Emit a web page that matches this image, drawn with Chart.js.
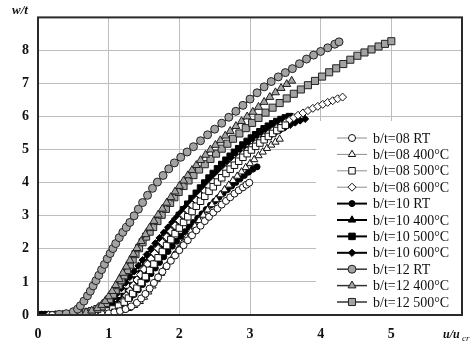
<!DOCTYPE html>
<html>
<head>
<meta charset="utf-8">
<script src="https://cdn.jsdelivr.net/npm/chart.js@4.4.1/dist/chart.umd.min.js"></script>
<style>
  html, body { margin: 0; padding: 0; background: #ffffff; }
  #wrap { width: 473px; height: 346px; }
</style>
</head>
<body>
<div id="wrap"><canvas id="chart" width="473" height="346"></canvas></div>
<script>
// Axis ticks
const xTicks = [0, 1, 2, 3, 4, 5];
const yTicks = [0, 1, 2, 3, 4, 5, 6, 7, 8];

// Series names (legend order)
const seriesNames = [
  'b/t=08 RT', 'b/t=08 400°C', 'b/t=08 500°C', 'b/t=08 600°C',
  'b/t=10 RT', 'b/t=10 400°C', 'b/t=10 500°C', 'b/t=10 600°C',
  'b/t=12 RT', 'b/t=12 400°C', 'b/t=12 500°C'
];

// [u/u_cr, w/t] pairs for each specimen
const bt08RT = [[0.2,0],[0.3,0],[0.4,0],[0.5,0],[0.6,0.01],[0.7,0.01],[0.8,0.02],[0.9,0.03],[1.0,0.05],[1.08,0.08],[1.16,0.12],[1.24,0.18],[1.32,0.26],[1.4,0.37],[1.46,0.5],[1.52,0.64],[1.58,0.8],[1.64,0.97],[1.7,1.14],[1.76,1.31],[1.82,1.48],[1.88,1.64],[1.94,1.8],[2.0,1.96],[2.06,2.11],[2.12,2.26],[2.18,2.41],[2.24,2.56],[2.3,2.7],[2.36,2.84],[2.42,2.97],[2.48,3.1],[2.54,3.22],[2.6,3.34],[2.66,3.45],[2.72,3.56],[2.78,3.67],[2.84,3.77],[2.9,3.86],[2.95,3.94],[2.99,4.0]];
const bt08T400 = [[0.25,0],[0.35,0],[0.45,0],[0.55,0.01],[0.65,0.01],[0.75,0.02],[0.85,0.03],[0.95,0.05],[1.05,0.07],[1.12,0.1],[1.2,0.14],[1.28,0.2],[1.36,0.29],[1.44,0.41],[1.5,0.54],[1.56,0.7],[1.62,0.88],[1.68,1.07],[1.74,1.26],[1.8,1.44],[1.86,1.62],[1.92,1.8],[1.98,1.98],[2.04,2.16],[2.1,2.34],[2.16,2.52],[2.22,2.69],[2.28,2.86],[2.34,3.02],[2.4,3.18],[2.46,3.34],[2.52,3.49],[2.58,3.64],[2.64,3.79],[2.7,3.93],[2.76,4.07],[2.82,4.2],[2.88,4.33],[2.94,4.46],[3.0,4.58],[3.06,4.7],[3.12,4.82],[3.18,4.93],[3.24,5.04],[3.3,5.14],[3.36,5.23],[3.42,5.32]];
const bt08T500 = [[0.3,0],[0.4,0.01],[0.5,0.01],[0.6,0.02],[0.7,0.03],[0.8,0.05],[0.9,0.08],[0.98,0.12],[1.06,0.18],[1.14,0.27],[1.22,0.39],[1.28,0.51],[1.34,0.65],[1.4,0.81],[1.46,0.98],[1.52,1.16],[1.58,1.35],[1.64,1.54],[1.7,1.73],[1.76,1.92],[1.82,2.1],[1.88,2.28],[1.94,2.46],[2.0,2.63],[2.06,2.8],[2.12,2.97],[2.18,3.13],[2.24,3.29],[2.3,3.44],[2.36,3.59],[2.42,3.74],[2.48,3.88],[2.54,4.02],[2.6,4.15],[2.66,4.28],[2.72,4.41],[2.78,4.53],[2.84,4.65],[2.9,4.77],[2.96,4.88],[3.02,4.99],[3.08,5.1],[3.14,5.2],[3.2,5.3],[3.26,5.4],[3.32,5.49],[3.38,5.58],[3.44,5.66],[3.5,5.74]];
const bt08T600 = [[0.15,0],[0.2,0],[0.25,0],[0.3,0],[0.35,0],[0.4,0],[0.45,0],[0.5,0.01],[0.55,0.01],[0.6,0.01],[0.65,0.02],[0.7,0.02],[0.75,0.03],[0.8,0.04],[0.85,0.05],[0.9,0.06],[0.95,0.08],[1.0,0.1],[1.05,0.14],[1.1,0.2],[1.15,0.3],[1.2,0.43],[1.25,0.58],[1.3,0.74],[1.35,0.9],[1.4,1.06],[1.45,1.22],[1.5,1.38],[1.55,1.54],[1.6,1.7],[1.65,1.86],[1.7,2.01],[1.76,2.19],[1.82,2.36],[1.88,2.53],[1.94,2.7],[2.0,2.86],[2.06,3.02],[2.12,3.17],[2.18,3.32],[2.24,3.47],[2.3,3.61],[2.36,3.75],[2.42,3.89],[2.48,4.02],[2.54,4.15],[2.6,4.28],[2.66,4.4],[2.72,4.52],[2.78,4.64],[2.84,4.75],[2.9,4.86],[2.96,4.97],[3.02,5.08],[3.08,5.18],[3.14,5.28],[3.2,5.38],[3.26,5.48],[3.32,5.57],[3.38,5.66],[3.44,5.74],[3.5,5.82],[3.56,5.9],[3.62,5.97],[3.68,6.04],[3.75,6.11],[3.82,6.18],[3.89,6.25],[3.96,6.31],[4.03,6.37],[4.1,6.43],[4.17,6.48],[4.24,6.54],[4.31,6.59]];

const bt10RT = [[0,0],[0.05,0],[0.1,0],[0.15,0],[0.2,0.01],[0.3,0.01],[0.4,0.02],[0.5,0.03],[0.6,0.04],[0.7,0.05],[0.8,0.07],[0.9,0.1],[0.98,0.14],[1.06,0.2],[1.14,0.28],[1.22,0.38],[1.3,0.5],[1.36,0.62],[1.42,0.76],[1.48,0.92],[1.54,1.08],[1.6,1.25],[1.66,1.42],[1.72,1.59],[1.78,1.76],[1.84,1.92],[1.9,2.08],[1.96,2.23],[2.02,2.38],[2.08,2.52],[2.14,2.66],[2.2,2.8],[2.26,2.93],[2.32,3.06],[2.38,3.19],[2.44,3.32],[2.5,3.44],[2.56,3.56],[2.62,3.68],[2.68,3.79],[2.74,3.9],[2.8,4.01],[2.86,4.12],[2.92,4.22],[2.98,4.32],[3.04,4.41],[3.1,4.48]];
const bt10T400 = [[0,0],[0.05,0],[0.1,0],[0.15,0],[0.25,0],[0.35,0.01],[0.45,0.02],[0.55,0.03],[0.65,0.04],[0.75,0.06],[0.84,0.09],[0.92,0.13],[1.0,0.19],[1.08,0.27],[1.16,0.38],[1.23,0.51],[1.3,0.66],[1.36,0.82],[1.42,0.99],[1.48,1.17],[1.54,1.36],[1.6,1.55],[1.66,1.74],[1.72,1.93],[1.78,2.12],[1.84,2.3],[1.9,2.48],[1.96,2.66],[2.02,2.83],[2.08,3.0],[2.14,3.16],[2.2,3.32],[2.26,3.48],[2.32,3.63],[2.38,3.78],[2.44,3.92],[2.5,4.06],[2.56,4.19],[2.62,4.32],[2.68,4.44],[2.74,4.56],[2.8,4.68],[2.86,4.79],[2.92,4.9],[2.98,5.01],[3.04,5.11],[3.1,5.21],[3.16,5.31],[3.22,5.41],[3.28,5.5],[3.34,5.59],[3.4,5.67],[3.46,5.75],[3.52,5.82],[3.58,5.89],[3.64,5.95]];
const bt10T500 = [[0,0],[0.05,0],[0.1,0],[0.15,0],[0.25,0.01],[0.35,0.01],[0.45,0.02],[0.55,0.03],[0.65,0.05],[0.75,0.07],[0.84,0.1],[0.92,0.15],[1.0,0.22],[1.08,0.31],[1.16,0.43],[1.22,0.56],[1.28,0.71],[1.34,0.88],[1.4,1.06],[1.46,1.25],[1.52,1.45],[1.58,1.65],[1.64,1.85],[1.7,2.05],[1.76,2.25],[1.82,2.45],[1.88,2.64],[1.94,2.83],[2.0,3.01],[2.06,3.18],[2.12,3.35],[2.18,3.52],[2.24,3.68],[2.3,3.84],[2.36,3.99],[2.42,4.14],[2.48,4.28],[2.54,4.42],[2.6,4.55],[2.66,4.68],[2.72,4.8],[2.78,4.92],[2.84,5.03],[2.9,5.14],[2.96,5.25],[3.02,5.35],[3.08,5.45],[3.14,5.54],[3.2,5.63],[3.26,5.71],[3.32,5.78],[3.38,5.85],[3.44,5.91],[3.5,5.96],[3.56,6.0]];
const bt10T600 = [[0,0],[0.05,0],[0.1,0],[0.2,0],[0.3,0.01],[0.4,0.02],[0.5,0.03],[0.6,0.05],[0.7,0.08],[0.78,0.12],[0.86,0.18],[0.94,0.27],[1.0,0.37],[1.06,0.5],[1.12,0.65],[1.18,0.81],[1.24,0.98],[1.3,1.15],[1.36,1.32],[1.42,1.49],[1.48,1.66],[1.54,1.83],[1.6,2.0],[1.66,2.17],[1.72,2.33],[1.78,2.49],[1.84,2.65],[1.9,2.8],[1.96,2.95],[2.02,3.1],[2.08,3.24],[2.14,3.38],[2.2,3.52],[2.26,3.65],[2.32,3.78],[2.38,3.9],[2.44,4.02],[2.5,4.14],[2.56,4.26],[2.62,4.37],[2.68,4.48],[2.74,4.59],[2.8,4.7],[2.87,4.82],[2.94,4.93],[3.01,5.04],[3.08,5.14],[3.15,5.24],[3.22,5.34],[3.29,5.43],[3.36,5.52],[3.43,5.6],[3.5,5.68],[3.57,5.75],[3.64,5.82],[3.71,5.88],[3.78,5.93]];

const bt12RT = [[0.3,0.02],[0.4,0.04],[0.5,0.1],[0.56,0.18],[0.6,0.28],[0.65,0.42],[0.7,0.58],[0.74,0.72],[0.78,0.88],[0.82,1.04],[0.86,1.2],[0.9,1.37],[0.94,1.53],[0.98,1.7],[1.02,1.86],[1.06,2.01],[1.1,2.16],[1.15,2.34],[1.2,2.5],[1.25,2.65],[1.3,2.8],[1.36,3.0],[1.42,3.2],[1.48,3.4],[1.55,3.62],[1.62,3.83],[1.69,4.02],[1.77,4.22],[1.85,4.42],[1.93,4.6],[2.02,4.77],[2.11,4.93],[2.2,5.09],[2.3,5.27],[2.4,5.45],[2.5,5.62],[2.6,5.8],[2.7,5.98],[2.8,6.16],[2.9,6.34],[3.0,6.53],[3.1,6.72],[3.2,6.9],[3.3,7.06],[3.4,7.2],[3.5,7.33],[3.6,7.45],[3.7,7.6],[3.8,7.74],[3.9,7.86],[4.0,7.97],[4.1,8.08],[4.2,8.19],[4.26,8.26]];
const bt12T400 = [[0.4,0.02],[0.5,0.03],[0.6,0.05],[0.68,0.08],[0.76,0.13],[0.84,0.2],[0.9,0.3],[0.95,0.42],[1.0,0.56],[1.05,0.72],[1.1,0.9],[1.15,1.08],[1.2,1.27],[1.25,1.46],[1.3,1.65],[1.35,1.84],[1.4,2.02],[1.46,2.23],[1.52,2.44],[1.58,2.64],[1.64,2.84],[1.7,3.03],[1.76,3.21],[1.82,3.39],[1.88,3.56],[1.94,3.73],[2.0,3.9],[2.06,4.06],[2.12,4.22],[2.18,4.38],[2.24,4.53],[2.3,4.68],[2.37,4.84],[2.44,5.0],[2.51,5.14],[2.58,5.28],[2.65,5.42],[2.72,5.56],[2.8,5.71],[2.88,5.86],[2.96,6.0],[3.04,6.14],[3.12,6.29],[3.2,6.44],[3.28,6.59],[3.36,6.73],[3.44,6.86],[3.52,6.98],[3.59,7.08]];
const bt12T500 = [[0.5,0.03],[0.6,0.05],[0.68,0.08],[0.76,0.12],[0.84,0.18],[0.9,0.26],[0.96,0.36],[1.01,0.48],[1.06,0.62],[1.1,0.76],[1.14,0.9],[1.18,1.05],[1.22,1.2],[1.26,1.36],[1.3,1.52],[1.34,1.68],[1.38,1.84],[1.43,2.02],[1.48,2.2],[1.53,2.37],[1.58,2.52],[1.63,2.66],[1.69,2.84],[1.75,3.03],[1.81,3.21],[1.87,3.39],[1.93,3.56],[1.99,3.72],[2.06,3.9],[2.13,4.07],[2.2,4.23],[2.28,4.4],[2.36,4.56],[2.44,4.72],[2.52,4.88],[2.6,5.03],[2.68,5.18],[2.76,5.33],[2.85,5.49],[2.94,5.65],[3.03,5.81],[3.12,5.96],[3.22,6.12],[3.32,6.27],[3.42,6.41],[3.52,6.55],[3.62,6.69],[3.72,6.82],[3.82,6.95],[3.92,7.08],[4.02,7.21],[4.12,7.34],[4.22,7.46],[4.32,7.59],[4.42,7.72],[4.52,7.84],[4.62,7.94],[4.72,8.03],[4.82,8.12],[4.91,8.2],[5.0,8.28]];

const seriesData = [bt08RT, bt08T400, bt08T500, bt08T600, bt10RT, bt10T400, bt10T500, bt10T600, bt12RT, bt12T400, bt12T500];

const SERIF = "'Liberation Serif', 'Times New Roman', serif";
const GRAY_FILL = '#a3a3a3';

// marker style per series
const styles = [
  { shape: 'circle',   r: 3.5, fill: '#ffffff', edge: '#111', line: '#8c8c8c', lw: 1, order: 2 },
  { shape: 'triangle', r: 4.2, fill: '#ffffff', edge: '#111', line: '#8c8c8c', lw: 1, order: 2 },
  { shape: 'rect',     r: 4.6, fill: '#ffffff', edge: '#111', line: '#8c8c8c', lw: 1, order: 2 },
  { shape: 'rectRot',  r: 4.0, fill: '#ffffff', edge: '#111', line: '#8c8c8c', lw: 1, order: 2 },
  { shape: 'circle',   r: 3.0, fill: '#000000', edge: '#000', line: '#000000', lw: 2, order: 3 },
  { shape: 'triangle', r: 4.2, fill: '#000000', edge: '#000', line: '#000000', lw: 2, order: 3 },
  { shape: 'rect',     r: 4.6, fill: '#000000', edge: '#000', line: '#000000', lw: 2, order: 3 },
  { shape: 'rectRot',  r: 3.6, fill: '#000000', edge: '#000', line: '#000000', lw: 2, order: 3 },
  { shape: 'circle',   r: 4.0, fill: GRAY_FILL, edge: '#222', line: '#333333', lw: 1.5, order: 1 },
  { shape: 'triangle', r: 4.6, fill: GRAY_FILL, edge: '#222', line: '#333333', lw: 1.5, order: 1 },
  { shape: 'rect',     r: 5.0, fill: GRAY_FILL, edge: '#222', line: '#333333', lw: 1.5, order: 1 }
];

const datasets = seriesData.map((pts, i) => {
  const s = styles[i];
  return {
    label: seriesNames[i],
    data: pts.map(p => ({ x: p[0], y: p[1] })),
    showLine: true,
    borderColor: s.line,
    borderWidth: s.lw,
    pointStyle: s.shape,
    pointRadius: s.r,
    pointBackgroundColor: s.fill,
    pointBorderColor: s.edge,
    pointBorderWidth: 1,
    tension: 0,
    order: s.order
  };
});

// draws a marker shape in the legend
function drawMarker(ctx, s, x, y) {
  ctx.save();
  ctx.fillStyle = s.fill;
  ctx.strokeStyle = s.edge;
  ctx.lineWidth = 1;
  if (Chart.helpers && Chart.helpers.drawPoint) {
    Chart.helpers.drawPoint(ctx, { pointStyle: s.shape, radius: s.r, rotation: 0, borderWidth: 1 }, x, y);
  } else {
    ctx.beginPath();
    ctx.arc(x, y, s.r, 0, Math.PI * 2);
    ctx.fill(); ctx.stroke();
  }
  ctx.restore();
}

const decorations = {
  id: 'decorations',
  afterDatasetsDraw(chart) {
    const ctx = chart.ctx;
    const a = chart.chartArea;
    // legend panel
    const box = { left: 316, top: 121, right: a.right, bottom: a.bottom };
    ctx.save();
    ctx.fillStyle = '#ffffff';
    ctx.fillRect(box.left, box.top, box.right - box.left, box.bottom - box.top);
    ctx.font = '14px ' + SERIF;
    ctx.textBaseline = 'middle';
    ctx.textAlign = 'left';
    seriesNames.forEach((name, i) => {
      const s = styles[i];
      const y = 138 + i * 16.4;
      ctx.strokeStyle = s.line;
      ctx.lineWidth = s.lw;
      ctx.beginPath();
      ctx.moveTo(337, y);
      ctx.lineTo(367, y);
      ctx.stroke();
      drawMarker(ctx, s, 352, y);
      ctx.fillStyle = '#111';
      ctx.fillText(name, 373, y + 1);
    });
    // plot frame
    ctx.strokeStyle = '#2a2a2a';
    ctx.lineWidth = 2;
    ctx.strokeRect(a.left, a.top, a.right - a.left, a.bottom - a.top);
    // axis names
    ctx.fillStyle = '#111';
    ctx.textAlign = 'center';
    ctx.textBaseline = 'alphabetic';
    ctx.font = 'italic bold 13px ' + SERIF;
    ctx.fillText('w/t', 20, 14);
    ctx.textAlign = 'left';
    ctx.font = 'italic bold 12px ' + SERIF;
    ctx.fillText('u/u', 443, 338);
    ctx.font = 'italic 9px ' + SERIF;
    ctx.fillText('cr', 462, 341);
    ctx.restore();
  }
};

new Chart(document.getElementById('chart'), {
  type: 'scatter',
  data: { datasets },
  options: {
    responsive: false,
    devicePixelRatio: 1,
    animation: false,
    layout: { padding: { top: 4, right: 5, left: 0, bottom: 0 } },
    plugins: { legend: { display: false }, tooltip: { enabled: false } },
    scales: {
      x: {
        type: 'linear', min: 0, max: 6,
        afterFit(scale) { scale.height = 31; },
        afterBuildTicks(scale) { scale.ticks = [...xTicks, 6].map(v => ({ value: v })); },
        grid: { color: '#bdbdbd', lineWidth: 1, drawTicks: false },
        border: { display: false },
        ticks: {
          padding: 11,
          color: '#111',
          font: { family: SERIF, size: 14, weight: 'bold' },
          callback: v => (xTicks.includes(v) ? String(v) : '')
        }
      },
      y: {
        type: 'linear', min: 0, max: 9,
        afterFit(scale) { scale.width = 38; },
        afterBuildTicks(scale) { scale.ticks = [...yTicks, 9].map(v => ({ value: v })); },
        grid: { color: '#bdbdbd', lineWidth: 1, drawTicks: false },
        border: { display: false },
        ticks: {
          padding: 9,
          color: '#111',
          font: { family: SERIF, size: 14, weight: 'bold' },
          callback: v => (yTicks.includes(v) ? String(v) : '')
        }
      }
    }
  },
  plugins: [decorations]
});
</script>
</body>
</html>
